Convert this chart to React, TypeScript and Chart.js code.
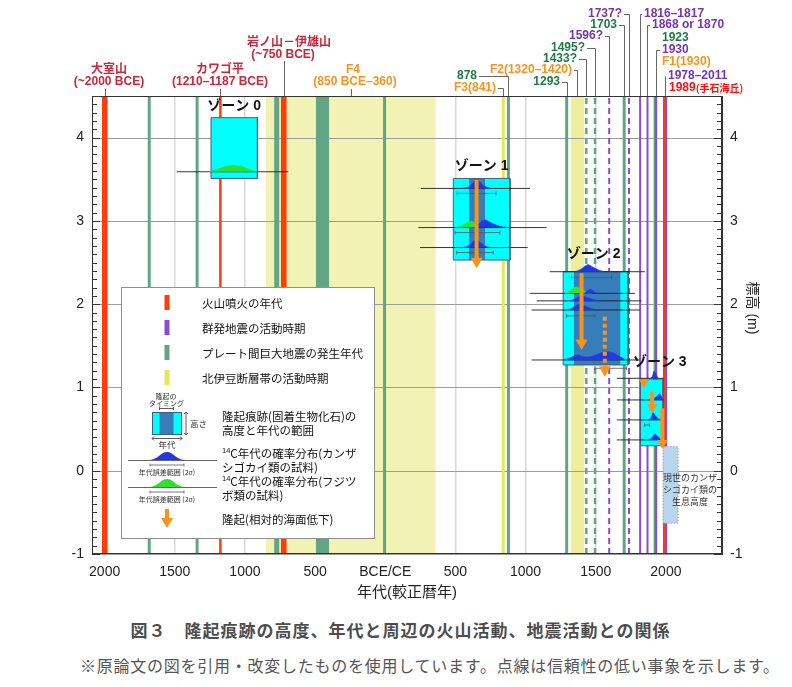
import React, { useEffect, useRef } from 'react';
import { Chart, registerables } from 'chart.js';

Chart.register(...registerables);

const FONT = '"Liberation Sans", Arial, "Noto Sans CJK JP", sans-serif';
const JP_FONT = '"Noto Sans CJK JP", "Liberation Sans", sans-serif';

// ---------- axes ----------
const X_MIN = -2090;
const X_MAX = 2400;
const Y_MIN = -1;
const Y_MAX = 4.5;
const X_TICKS = [-2000, -1500, -1000, -500, 0, 500, 1000, 1500, 2000];
const Y_TICKS = [-1, 0, 1, 2, 3, 4];
const X_TITLE = '年代(較正暦年)';
const Y_TITLE = '標高 (m)';

// ---------- events (calendar year, negative = BCE) ----------
const VOLCANIC_RANGES: number[][] = [[-2020, -1978], [-745, -702]];
const VOLCANIC_YEARS = [-1175, 1989];
const PLATE_RANGES: number[][] = [[-792, -754], [-495, -400]];
const PLATE_YEARS = [-1682, -1341, -5, 878, 1293, 1703, 1923];
const PLATE_UNCERTAIN = [1433, 1495];
const FAULT_RANGES: number[][] = [[-850, 360], [1320, 1420]];
const FAULT_YEARS = [841, 1930];
const SWARM_RANGES: number[][] = [[1978, 2011]];
const SWARM_YEARS = [1816.5, 1869, 1930];
const SWARM_UNCERTAIN = [1596, 1737];

// ---------- uplift zones (age range, height range in m) ----------
const ZONE_NAMES = ['ゾーン 0', 'ゾーン 1', 'ゾーン 2', 'ゾーン 3'];
const ZONE_AGE: number[][] = [[-1242, -911], [485, 889], [1268, 1731], [1819, 1980]];
const ZONE_HEIGHT: number[][] = [[3.51, 4.24], [2.53, 3.51], [1.27, 2.39], [0.30, 1.10]];
const ZONE_TIMING: (number[] | null)[] = [null, [597, 711], [1344, 1677], null];

// ---------- 14C probability distributions: [year, height above baseline (m)] ----------
const DIST_Z0_G = [[-1265, 0], [-1210, 0.02], [-1160, 0.05], [-1095, 0.08], [-1030, 0.065], [-970, 0.03], [-910, 0]];
const DIST_Z1_A = [[545, 0], [590, 0.015], [625, 0.065], [650, 0.1], [675, 0.075], [710, 0.025], [750, 0]];
const DIST_Z1_B_G = [[495, 0], [540, 0.02], [580, 0.055], [615, 0.075], [645, 0.045], [665, 0]];
const DIST_Z1_B = [[635, 0], [665, 0.04], [690, 0.08], [712, 0.09], [740, 0.07], [790, 0.03], [840, 0.008], [890, 0]];
const DIST_Z1_C = [[545, 0], [590, 0.02], [625, 0.07], [650, 0.095], [675, 0.065], [710, 0.02], [750, 0]];
const DIST_Z2_A = [[1350, 0], [1395, 0.03], [1425, 0.07], [1446, 0.085], [1475, 0.06], [1520, 0.02], [1565, 0]];
const DIST_Z2_B_G = [[1280, 0], [1310, 0.02], [1340, 0.06], [1364, 0.08], [1395, 0.055], [1435, 0.015], [1470, 0]];
const DIST_Z2_B = [[1420, 0], [1445, 0.035], [1465, 0.045], [1490, 0.02], [1515, 0]];
const DIST_Z2_C = [[1315, 0], [1350, 0.02], [1380, 0.05], [1400, 0.06], [1430, 0.045], [1480, 0.015], [1540, 0]];
const DIST_Z2_D = [[1292, 0], [1330, 0.02], [1365, 0.06], [1387, 0.07], [1420, 0.05], [1470, 0.015], [1530, 0]];
const DIST_Z2_E = [[1268, 0], [1310, 0.02], [1350, 0.05], [1375, 0.06], [1410, 0.04], [1450, 0.035], [1500, 0.06], [1545, 0.09], [1588, 0.1], [1630, 0.08], [1675, 0.035], [1720, 0]];
const DIST_Z3_A = [[1890, 0], [1905, 0.03], [1916, 0.09], [1928, 0.05], [1945, 0]];
const DIST_Z3_B = [[1865, 0], [1910, 0.015], [1938, 0.045], [1955, 0.075], [1968, 0.04], [1978, 0]];
const DIST_Z3_C = [[1875, 0], [1895, 0.03], [1909, 0.085], [1925, 0.05], [1945, 0.015], [1965, 0]];
const DIST_Z3_D = [[1870, 0], [1900, 0.025], [1921, 0.07], [1940, 0.045], [1960, 0.015], [1978, 0]];

const DISTS = [
  { pts: DIST_Z0_G, base: 3.59, tail: [-1485, -690], kind: 'g' },
  { pts: DIST_Z1_A, base: 3.39, tail: [253, 1031], kind: 'b' },
  { pts: DIST_Z1_B_G, base: 2.92, tail: [236, 1150], kind: 'g' },
  { pts: DIST_Z1_B, base: 2.92, tail: null, kind: 'b' },
  { pts: DIST_Z1_C, base: 2.68, tail: [248, 1015], kind: 'b' },
  { pts: DIST_Z2_A, base: 2.39, tail: [1173, 1850], kind: 'b' },
  { pts: DIST_Z2_B_G, base: 2.13, tail: [1031, 1779], kind: 'g' },
  { pts: DIST_Z2_B, base: 2.13, tail: null, kind: 'b' },
  { pts: DIST_Z2_C, base: 2.04, tail: [1079, 1826], kind: 'b' },
  { pts: DIST_Z2_D, base: 1.93, tail: [1043, 1814], kind: 'b' },
  { pts: DIST_Z2_E, base: 1.33, tail: [1043, 1814], kind: 'b' },
  { pts: DIST_Z3_A, base: 1.11, tail: [1650, 1985], kind: 'b' },
  { pts: DIST_Z3_B, base: 0.85, tail: [1650, 1985], kind: 'b' },
  { pts: DIST_Z3_C, base: 0.61, tail: [1650, 1985], kind: 'b' },
  { pts: DIST_Z3_D, base: 0.37, tail: [1650, 1985], kind: 'b' },
];

// 2-sigma age error ranges: [from, to, height]
const ERROR_RANGES = [[513, 789, 3.33], [497, 817, 2.86], [509, 770, 2.62], [1328, 1613, 2.32], [1292, 1494, 1.86], [1494, 1720, 1.23], [1848, 1884, 0.55]];

// uplift arrows: [year, from height, to height, uncertain]
const UPLIFT_ARROWS: [number, number, number, boolean][] = [
  [651, 3.49, 2.43, false],
  [1399, 2.37, 1.45, false],
  [1565, 1.85, 1.13, true],
  [1843, 1.09, 0.99, false],
  [1902, 0.95, 0.69, false],
  [1975, 0.75, 0.26, false],
];

// present-day habitat of serpulids
const MODERN_AGE = [1980, 2087];
const MODERN_HEIGHT = [-0.63, 0.29];
const MODERN_TEXT = ['現世のカンザ', 'シゴカイ類の', '生息高度'];

// top labels
const EVENT_LABELS = [
  { text: ['大室山', '(~2000 BCE)'], year: -2000, kind: 'red' },
  { text: ['カワゴ平', '(1210–1187 BCE)'], year: -1175, kind: 'red' },
  { text: ['岩ノ山－伊雄山', '(~750 BCE)'], year: -723, kind: 'red' },
  { text: ['F4', '(850 BCE–360)'], year: -245, kind: 'orange' },
  { text: ['878'], year: 878, kind: 'green' },
  { text: ['F3(841)'], year: 841, kind: 'orange' },
  { text: ['F2(1320–1420)'], year: 1370, kind: 'orange' },
  { text: ['1293'], year: 1293, kind: 'green' },
  { text: ['1433?'], year: 1433, kind: 'green' },
  { text: ['1495?'], year: 1495, kind: 'green' },
  { text: ['1596?'], year: 1596, kind: 'purple' },
  { text: ['1703'], year: 1703, kind: 'green' },
  { text: ['1737?'], year: 1737, kind: 'purple' },
  { text: ['1816–1817'], year: 1816.5, kind: 'purple' },
  { text: ['1868 or 1870'], year: 1869, kind: 'purple' },
  { text: ['1923'], year: 1923, kind: 'green' },
  { text: ['1930'], year: 1930, kind: 'purple' },
  { text: ['F1(1930)'], year: 1930, kind: 'orange' },
  { text: ['1978–2011'], year: 1994.5, kind: 'purple' },
  { text: ['1989', '(手石海丘)'], year: 1989, kind: 'red2' },
];

const LEGEND_EVENT_TEXT = ['火山噴火の年代', '群発地震の活動時期', 'プレート間巨大地震の発生年代', '北伊豆断層帯の活動時期'];
const LEGEND_BOX_TEXT = ['隆起痕跡(固着生物化石)の', '高度と年代の範囲'];
const LEGEND_BLUE_TEXT = ['C年代の確率分布(カンザ', 'シゴカイ類の試料)'];
const LEGEND_GREEN_TEXT = ['C年代の確率分布(フジツ', 'ボ類の試料)'];
const LEGEND_ARROW_TEXT = '隆起(相対的海面低下)';

const CAPTION = '図３　隆起痕跡の高度、年代と周辺の火山活動、地震活動との関係';
const NOTE = '※原論文の図を引用・改変したものを使用しています。点線は信頼性の低い事象を示します。';

// ---------- styles / layout ----------
const COLORS = {
  red: '#ff3c0a',
  green: '#62a585',
  yellowBand: ['#f2f2b4', '#eeee9e'],
  yellowLine: '#e6e65a',
  purple: '#8a4dcc',
  cyan: '#00ffff',
  dark: '#377db9',
  boxBorder: '#3f5f80',
  blue: '#2337e6',
  greenDist: '#30e030',
  orange: '#f7931e',
  tail: 'rgba(30,30,30,0.9)',
  modern: '#b7d5ec',
};
const TEXT_COLORS: Record<string, string> = {
  red: '#c8283a',
  red2: '#ff1010',
  orange: '#f7931e',
  green: '#1f7a47',
  purple: '#7535b0',
};
const LABEL_LAYOUT: any[] = [
  { mode: 'center', x: [109, 109], y: [70, 82], lead: 89 },
  { mode: 'center', x: [220, 220], y: [70, 82], lead: 89 },
  { mode: 'center', x: [289, 283], y: [43, 55], lead: 61 },
  { mode: 'center', x: [353, 355], y: [70, 82], lead: 89 },
  { mode: 'right', x: 477, y: 76 },
  { mode: 'right', x: 496, y: 88 },
  { mode: 'right', x: 572, y: 70 },
  { mode: 'right', x: 560, y: 82 },
  { mode: 'right', x: 577, y: 59 },
  { mode: 'right', x: 585, y: 48 },
  { mode: 'right', x: 603, y: 36 },
  { mode: 'right', x: 617, y: 25 },
  { mode: 'right', x: 622, y: 14 },
  { mode: 'left', x: 644, y: 14, lead: true },
  { mode: 'left', x: 652, y: 25, lead: true },
  { mode: 'left', x: 662, y: 38, lead: false },
  { mode: 'left', x: 662, y: 50, lead: true },
  { mode: 'left', x: 662, y: 62, lead: false },
  { mode: 'left', x: 668, y: 76, lead: true },
  { mode: 'inline', x: 669, y: 88, lead: false },
];
const ZONE_LABEL_SHIFT = [[0, -12], [0, -12], [-2, -18], [8, -16.5]];
const ARROW_HEAD_R = [7, 7, 7, 6, 6, 6];
const PX_PER_M = 83.27;
const LEGEND_FONT = `11.5px ${JP_FONT}`;

// ---------- datasets ----------
function buildDatasets() {
  const ds: any[] = [];
  const add = (d: any) => ds.push({ pointRadius: 0, fill: false, borderWidth: 0, borderColor: 'rgba(0,0,0,0)', ...d });
  const band = (r: number[], color: string, order: number) =>
    add({ data: [{ x: r[0], y: Y_MAX }, { x: r[1], y: Y_MAX }], fill: { value: Y_MIN }, backgroundColor: color, order });
  const vline = (x: number, color: string, width: number, order: number, dash: number[] = []) =>
    add({ data: [{ x, y: Y_MIN }, { x, y: Y_MAX }], borderColor: color, borderWidth: width, borderDash: dash, order });

  FAULT_RANGES.forEach((r, i) => band(r, COLORS.yellowBand[i], 100));
  add({ data: [], gridHook: true, order: 95 });
  FAULT_YEARS.forEach((x) => vline(x, COLORS.yellowLine, 3, 90));
  PLATE_RANGES.forEach((r) => band(r, COLORS.green, 85));
  PLATE_YEARS.forEach((x) => vline(x, COLORS.green, 3, 85));
  PLATE_UNCERTAIN.forEach((x) => vline(x, COLORS.green, 2.5, 85, [6, 4]));
  SWARM_RANGES.forEach((r) => band(r, COLORS.purple, 80));
  SWARM_YEARS.forEach((x) => vline(x, COLORS.purple, 2, 80));
  SWARM_UNCERTAIN.forEach((x) => vline(x, COLORS.purple, 2, 80, [6, 4]));
  VOLCANIC_RANGES.forEach((r) => band(r, COLORS.red, 75));
  VOLCANIC_YEARS.forEach((x) => vline(x, COLORS.red, 2.5, 75));

  // present habitat box
  add({ data: [{ x: MODERN_AGE[0], y: MODERN_HEIGHT[1] }, { x: MODERN_AGE[1], y: MODERN_HEIGHT[1] }], fill: { value: MODERN_HEIGHT[0] }, backgroundColor: COLORS.modern, order: 60 });
  add({
    data: [
      { x: MODERN_AGE[0], y: MODERN_HEIGHT[0] }, { x: MODERN_AGE[0], y: MODERN_HEIGHT[1] },
      { x: MODERN_AGE[1], y: MODERN_HEIGHT[1] }, { x: MODERN_AGE[1], y: MODERN_HEIGHT[0] },
      { x: MODERN_AGE[0], y: MODERN_HEIGHT[0] },
    ],
    borderColor: '#9a9a9a', borderWidth: 1, borderDash: [1, 2], order: 59,
  });

  // zones
  ZONE_AGE.forEach(([a, b], i) => {
    const [h0, h1] = ZONE_HEIGHT[i];
    add({ data: [{ x: a, y: h1 }, { x: b, y: h1 }], fill: { value: h0 }, backgroundColor: COLORS.cyan, order: 50 });
    const t = ZONE_TIMING[i];
    if (t) add({ data: [{ x: t[0], y: h1 }, { x: t[1], y: h1 }], fill: { value: h0 }, backgroundColor: COLORS.dark, order: 49 });
    add({
      data: [{ x: a, y: h0 }, { x: a, y: h1 }, { x: b, y: h1 }, { x: b, y: h0 }, { x: a, y: h0 }],
      borderColor: COLORS.boxBorder, borderWidth: 1, order: 48,
    });
  });

  // distributions
  DISTS.forEach((d) => {
    if (d.tail) add({ data: [{ x: d.tail[0], y: d.base }, { x: d.tail[1], y: d.base }], borderColor: COLORS.tail, borderWidth: 1, order: 45 });
    const col = d.kind === 'g' ? COLORS.greenDist : COLORS.blue;
    add({
      data: d.pts.map(([x, h]) => ({ x, y: d.base + h })),
      fill: { value: d.base }, backgroundColor: col, borderColor: col, borderWidth: 0.6,
      cubicInterpolationMode: 'monotone', order: d.kind === 'g' ? 42 : 40,
    });
  });

  ERROR_RANGES.forEach(([a, b, y]) =>
    add({
      data: [{ x: a, y }, { x: b, y }], borderColor: '#555', borderWidth: 0.8,
      pointStyle: 'line', pointRotation: 90, pointRadius: 2, pointBorderColor: '#555', pointBorderWidth: 0.8, order: 44,
    })
  );

  UPLIFT_ARROWS.forEach(([x, y0, y1, dotted], i) => {
    const r = ARROW_HEAD_R[i];
    add({
      data: [{ x, y: y0 }, { x, y: y1 + r / PX_PER_M }],
      borderColor: COLORS.orange, borderWidth: 4, borderDash: dotted ? [4, 3] : [],
      pointStyle: 'triangle', pointRotation: 180, pointRadius: [0, r],
      pointBackgroundColor: COLORS.orange, pointBorderColor: COLORS.orange, pointBorderWidth: 0, order: 10,
    });
  });
  return ds;
}

// ---------- drawing helpers ----------
function seg(ctx: CanvasRenderingContext2D, pts: number[][]) {
  ctx.beginPath();
  ctx.moveTo(pts[0][0], pts[0][1]);
  for (let i = 1; i < pts.length; i++) ctx.lineTo(pts[i][0], pts[i][1]);
  ctx.stroke();
}
function bellIcon(ctx: CanvasRenderingContext2D, cx: number, base: number, hw: number, h: number, color: string) {
  ctx.beginPath();
  ctx.moveTo(cx - hw, base);
  ctx.bezierCurveTo(cx - hw * 0.45, base, cx - hw * 0.35, base - h, cx, base - h);
  ctx.bezierCurveTo(cx + hw * 0.35, base - h, cx + hw * 0.45, base, cx + hw, base);
  ctx.closePath();
  ctx.fillStyle = color;
  ctx.fill();
}
function superText(ctx: CanvasRenderingContext2D, x: number, y: number, txt: string) {
  ctx.font = `7.5px ${FONT}`;
  ctx.fillText('14', x, y - 3.5);
  const w = ctx.measureText('14').width;
  ctx.font = LEGEND_FONT;
  ctx.fillText(txt, x + w, y);
}

function drawLegend(ctx: CanvasRenderingContext2D) {
  ctx.save();
  ctx.fillStyle = '#fff';
  ctx.fillRect(121, 287, 253, 251);
  ctx.strokeStyle = '#8f8f8f';
  ctx.lineWidth = 1;
  ctx.strokeRect(121.5, 287.5, 253, 251);
  const sw = [COLORS.red, COLORS.purple, COLORS.green, COLORS.yellowLine];
  ctx.textAlign = 'left';
  ctx.textBaseline = 'middle';
  LEGEND_EVENT_TEXT.forEach((t, i) => {
    const cy = 302.5 + 25 * i;
    ctx.fillStyle = sw[i];
    ctx.fillRect(164.5, cy - 7.5, 5, 15);
    ctx.fillStyle = '#111';
    ctx.font = LEGEND_FONT;
    ctx.fillText(t, 202, cy + 1);
  });
  // box icon
  ctx.fillStyle = COLORS.cyan;
  ctx.fillRect(152, 412, 30, 23);
  ctx.fillStyle = COLORS.dark;
  ctx.fillRect(159.5, 412, 14, 23);
  ctx.strokeStyle = COLORS.boxBorder;
  ctx.strokeRect(152.5, 412.5, 29, 22);
  ctx.strokeStyle = '#333';
  ctx.lineWidth = 0.8;
  seg(ctx, [[186, 412], [186, 435]]);
  seg(ctx, [[184, 414], [186, 412], [188, 414]]);
  seg(ctx, [[184, 433], [186, 435], [188, 433]]);
  seg(ctx, [[152, 438.5], [182, 438.5]]);
  seg(ctx, [[154, 436.5], [152, 438.5], [154, 440.5]]);
  seg(ctx, [[180, 436.5], [182, 438.5], [180, 440.5]]);
  seg(ctx, [[159.5, 408.5], [173.5, 408.5]]);
  seg(ctx, [[159.5, 407], [159.5, 410]]);
  seg(ctx, [[173.5, 407], [173.5, 410]]);
  ctx.fillStyle = '#333';
  ctx.font = `7px ${JP_FONT}`;
  ctx.textAlign = 'center';
  ctx.fillText('隆起の', 166, 396.5);
  ctx.fillText('タイミング', 166.5, 403.5);
  ctx.font = `8.5px ${JP_FONT}`;
  ctx.fillText('年代', 167, 444.5);
  ctx.textAlign = 'left';
  ctx.fillText('高さ', 190, 424);
  ctx.fillStyle = '#111';
  ctx.font = LEGEND_FONT;
  ctx.fillText(LEGEND_BOX_TEXT[0], 222, 417);
  ctx.fillText(LEGEND_BOX_TEXT[1], 222, 431);
  // distribution icons
  const distIcon = (base: number, color: string) => {
    ctx.strokeStyle = '#666';
    ctx.lineWidth = 1;
    seg(ctx, [[128, base + 0.5], [217, base + 0.5]]);
    bellIcon(ctx, 167, base, 19, 8, color);
    ctx.strokeStyle = '#555';
    ctx.lineWidth = 0.8;
    seg(ctx, [[150, base + 5], [184, base + 5]]);
    seg(ctx, [[150, base + 3.5], [150, base + 6.5]]);
    seg(ctx, [[184, base + 3.5], [184, base + 6.5]]);
    ctx.fillStyle = '#333';
    ctx.font = `7px ${JP_FONT}`;
    ctx.textAlign = 'center';
    ctx.fillText('年代誤差範囲 (2σ)', 167, base + 12);
  };
  distIcon(460, COLORS.blue);
  distIcon(487, COLORS.greenDist);
  ctx.fillStyle = '#111';
  ctx.textAlign = 'left';
  superText(ctx, 222, 454, LEGEND_BLUE_TEXT[0]);
  ctx.fillText(LEGEND_BLUE_TEXT[1], 222, 467.5);
  superText(ctx, 222, 482, LEGEND_GREEN_TEXT[0]);
  ctx.fillText(LEGEND_GREEN_TEXT[1], 222, 496);
  // arrow
  ctx.fillStyle = COLORS.orange;
  ctx.fillRect(165, 509, 4, 11);
  ctx.beginPath();
  ctx.moveTo(161, 518);
  ctx.lineTo(173, 518);
  ctx.lineTo(167, 528);
  ctx.closePath();
  ctx.fill();
  ctx.fillStyle = '#111';
  ctx.fillText(LEGEND_ARROW_TEXT, 222, 520);
  ctx.restore();
}

const overlayPlugin = {
  id: 'overlay',
  afterDatasetDraw(chart: any, args: any) {
    const d = chart.data.datasets[args.index];
    if (!d || !d.gridHook) return;
    const { ctx, chartArea: ca, scales } = chart;
    ctx.save();
    ctx.strokeStyle = '#9c9c9c';
    ctx.lineWidth = 1;
    Y_TICKS.forEach((v) => {
      const py = Math.round(scales.y.getPixelForValue(v)) + 0.5;
      seg(ctx, [[ca.left, py], [ca.right, py]]);
    });
    ctx.restore();
  },
  afterDraw(chart: any) {
    const { ctx, chartArea: ca, scales } = chart;
    const xs = scales.x;
    const ys = scales.y;
    ctx.save();
    // frame
    ctx.strokeStyle = '#333';
    ctx.lineWidth = 1;
    ctx.strokeRect(Math.round(ca.left) + 0.5, Math.round(ca.top) + 0.5, Math.round(ca.right - ca.left) - 1, Math.round(ca.bottom - ca.top) - 1);
    // minor ticks (inside)
    for (let k = -10; k <= 45; k++) {
      const py = Math.round(ys.getPixelForValue(k / 10)) + 0.5;
      const len = k % 10 === 0 ? 8 : 5;
      seg(ctx, [[ca.left, py], [ca.left + len, py]]);
      seg(ctx, [[ca.right - len, py], [ca.right, py]]);
    }
    // zone labels
    ctx.font = `bold 14px ${FONT}`;
    ctx.fillStyle = '#111';
    ctx.textAlign = 'center';
    ctx.textBaseline = 'middle';
    ZONE_NAMES.forEach((n, i) => {
      const [a, b] = ZONE_AGE[i];
      const cx = (xs.getPixelForValue(a) + xs.getPixelForValue(b)) / 2 + ZONE_LABEL_SHIFT[i][0];
      const cy = ys.getPixelForValue(ZONE_HEIGHT[i][1]) + ZONE_LABEL_SHIFT[i][1];
      ctx.fillText(n, cx, cy);
    });
    // modern habitat text
    ctx.font = `9px ${JP_FONT}`;
    ctx.fillStyle = '#333';
    const mx = xs.getPixelForValue(MODERN_AGE[1]) + 12;
    const my = (ys.getPixelForValue(MODERN_HEIGHT[0]) + ys.getPixelForValue(MODERN_HEIGHT[1])) / 2;
    MODERN_TEXT.forEach((t, i) => ctx.fillText(t, mx, my - 7 + 12 * i));
    // top labels
    ctx.strokeStyle = '#666';
    ctx.lineWidth = 1;
    EVENT_LABELS.forEach((lab, i) => {
      const L = LABEL_LAYOUT[i];
      const ex = Math.round(xs.getPixelForValue(lab.year)) + 0.5;
      const top = Math.round(ca.top);
      ctx.fillStyle = TEXT_COLORS[lab.kind];
      ctx.font = `bold 12px ${FONT}`;
      if (L.mode === 'center') {
        ctx.textAlign = 'center';
        lab.text.forEach((t, j) => ctx.fillText(t, L.x[j], L.y[j]));
        seg(ctx, [[ex, L.lead], [ex, top]]);
      } else if (L.mode === 'right') {
        ctx.textAlign = 'right';
        ctx.fillText(lab.text[0], L.x, L.y);
        seg(ctx, [[L.x + 2, L.y + 0.5], [ex, L.y + 0.5], [ex, top]]);
      } else if (L.mode === 'left') {
        ctx.textAlign = 'left';
        ctx.fillText(lab.text[0], L.x, L.y);
        if (L.lead) seg(ctx, [[L.x - 2, L.y + 0.5], [ex, L.y + 0.5], [ex, top]]);
      } else {
        ctx.textAlign = 'left';
        ctx.fillText(lab.text[0], L.x, L.y);
        const w = ctx.measureText(lab.text[0]).width;
        ctx.font = `bold 10px ${JP_FONT}`;
        ctx.fillText(lab.text[1], L.x + w, L.y + 0.5);
      }
    });
    // right axis title
    ctx.save();
    ctx.translate(ca.right + 30, (ca.top + ca.bottom) / 2 - 17);
    ctx.rotate(Math.PI / 2);
    ctx.font = `14px ${FONT}`;
    ctx.fillStyle = '#222';
    ctx.textAlign = 'center';
    ctx.fillText(Y_TITLE, 0, 0);
    ctx.restore();
    // legend
    drawLegend(ctx);
    ctx.restore();
  },
};

const tickFont = { family: FONT, size: 14 };

export default function App() {
  const ref = useRef<HTMLCanvasElement>(null);
  useEffect(() => {
    if (!ref.current) return;
    const yScale = (position: string, width: number) => ({
      type: 'linear',
      position,
      display: true,
      min: Y_MIN,
      max: Y_MAX,
      afterBuildTicks: (s: any) => {
        s.ticks = Y_TICKS.map((v) => ({ value: v }));
      },
      afterFit: (s: any) => {
        s.width = width;
      },
      grid: { display: false, drawTicks: false },
      border: { color: '#333', width: 1 },
      ticks: { padding: 8, font: tickFont, color: '#222', autoSkip: false },
    });
    const chart = new Chart(ref.current, {
      type: 'line',
      data: { datasets: buildDatasets() },
      options: {
        responsive: false,
        animation: false,
        events: [],
        layout: { padding: { top: 96, left: 0, right: 0, bottom: 0 } },
        elements: { point: { radius: 0 } },
        plugins: { legend: { display: false }, tooltip: { enabled: false } },
        scales: {
          x: {
            type: 'linear',
            min: X_MIN,
            max: X_MAX,
            afterBuildTicks: (s: any) => {
              s.ticks = X_TICKS.map((v) => ({ value: v }));
            },
            afterFit: (s: any) => {
              s.height = 56;
            },
            grid: { color: '#d9d9d9', lineWidth: 1.5, drawTicks: false },
            border: { color: '#333', width: 1 },
            ticks: {
              padding: 10,
              font: tickFont,
              color: '#222',
              autoSkip: false,
              maxRotation: 0,
              callback: (v: any) => (v < 0 ? String(-v) : v === 0 ? 'BCE/CE' : String(v)),
            },
            title: { display: true, text: X_TITLE, font: { family: FONT, size: 15 }, color: '#222', padding: { top: 0, bottom: 8 } },
          },
          y: yScale('left', 92),
          y2: yScale('right', 70),
        },
      } as any,
      plugins: [overlayPlugin as any],
    });
    return () => chart.destroy();
  }, []);

  return (
    <div style={{ position: 'absolute', left: 0, top: 0, width: 792, height: 687, background: '#fff', overflow: 'hidden' }}>
      <canvas ref={ref} width={792} height={610} style={{ position: 'absolute', left: 0, top: 0, width: 792, height: 610 }} />
      <div
        style={{
          position: 'absolute', top: 617, left: 0, width: 801, textAlign: 'center', whiteSpace: 'nowrap',
          fontFamily: JP_FONT, fontWeight: 'bold', fontSize: 17, letterSpacing: 1, color: '#4d4d4d', lineHeight: '26px',
        }}
      >
        {CAPTION}
      </div>
      <div
        style={{
          position: 'absolute', top: 652, left: 80, whiteSpace: 'nowrap',
          fontFamily: JP_FONT, fontSize: 16, letterSpacing: 0.75, color: '#555', lineHeight: '26px',
        }}
      >
        {NOTE}
      </div>
    </div>
  );
}
